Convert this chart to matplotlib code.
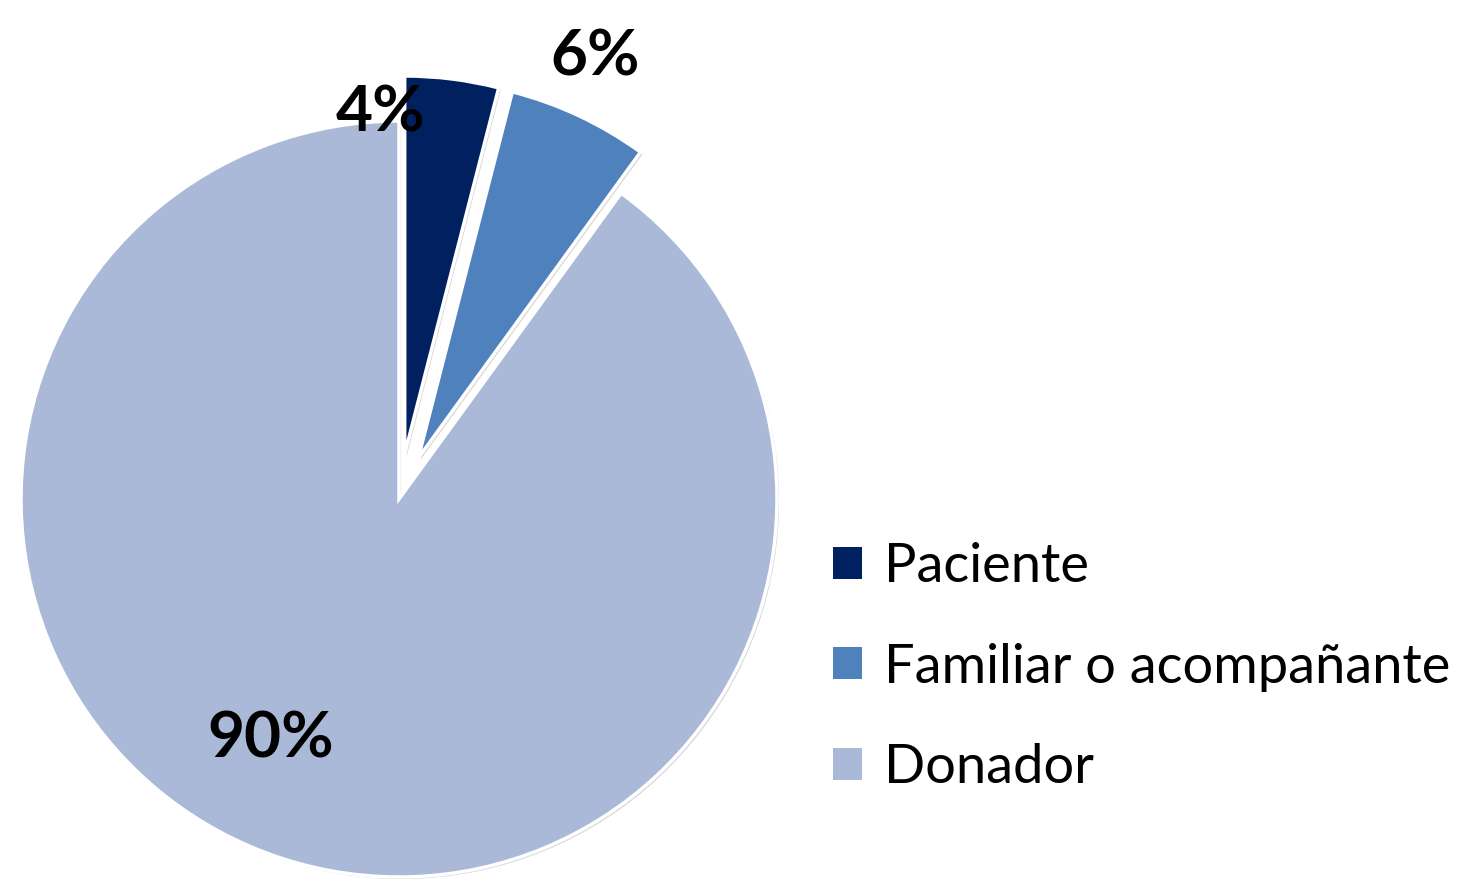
import matplotlib
matplotlib.use("Agg")
import matplotlib.pyplot as plt
import matplotlib.patheffects as pe
from matplotlib.patches import Patch

categories = ["Paciente", "Familiar o acompañante", "Donador"]
values = [4, 6, 90]
labels = ["4%", "6%", "90%"]
colors = ["#00205F", "#4F81BD", "#AAB9D7"]
explode = [0.12, 0.12, 0.0]

W, H = 1483, 880
fig = plt.figure(figsize=(W / 100, H / 100), dpi=100)
fig.patch.set_facecolor("white")

cx, cy, R = 399, 880 - 499, 378
lim = 1.1
side = 2 * lim * R
ax = fig.add_axes([(cx - side / 2) / W, (cy - side / 2) / H, side / W, side / H])

wedges, _ = ax.pie(values, colors=colors, explode=explode, startangle=90,
                   counterclock=False, radius=1.0,
                   wedgeprops=dict(edgecolor="white", linewidth=2.5))
for w in wedges:
    w.set_path_effects([pe.SimplePatchShadow(offset=(1.5, -1.5), shadow_rgbFace="#888888", alpha=0.35),
                        pe.Normal()])
ax.set_xlim(-lim, lim)
ax.set_ylim(-lim, lim)
ax.set_aspect("equal")
ax.axis("off")

label_pos = [(-0.05, 1.02), (0.52, 1.17), (-0.34, -0.635)]
for (x, y), t in zip(label_pos, labels):
    ax.text(x, y, t, ha="center", va="center", fontsize=46, fontweight="bold",
            family="Lato", color="black")

handles = [Patch(facecolor=c, edgecolor="none") for c in colors]
fig.legend(handles, categories, loc="center left",
           bbox_to_anchor=(833 / W, 1 - 667 / H), frameon=False,
           prop=dict(family="Lato", size=39), handlelength=0.53, handleheight=0.53,
           handletextpad=0.41, labelspacing=0.95, borderaxespad=0, borderpad=0)

fig.savefig("out.png", dpi=100)
